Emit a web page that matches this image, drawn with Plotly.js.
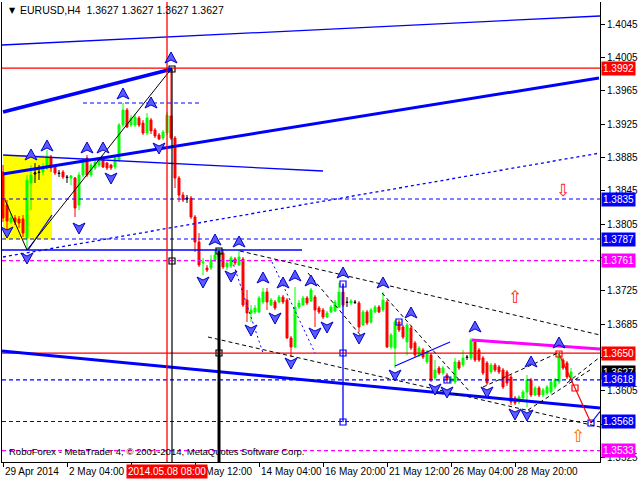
<!DOCTYPE html>
<html><head><meta charset="utf-8">
<script src="https://cdn.plot.ly/plotly-3.0.1.min.js"></script>
<style>html,body{margin:0;padding:0;background:#fff}#chart{width:640px;height:480px}</style>
</head><body><div id="chart"></div>
<script>
// ---- candle data (EURUSD H4), bar index 0 = 29 Apr 2014 12:00 ----
const openP = [1.38674,1.38278,1.38074,1.38122,1.38110,1.38110,1.37882,1.38542,1.38650,1.38674,1.38674,1.38722,1.38854,1.38734,1.38662,1.38674,1.38614,1.38602,1.38602,1.38278,1.38638,1.38842,1.38638,1.38722,1.38758,1.38842,1.38782,1.38758,1.38734,1.38818,1.39238,1.39418,1.39238,1.39238,1.39322,1.39262,1.39142,1.39298,1.39178,1.39118,1.39082,1.39142,1.39346,1.39082,1.38602,1.38398,1.38362,1.38362,1.38134,1.37834,1.37582,1.37522,1.37522,1.37618,1.37654,1.37702,1.37534,1.37546,1.37630,1.37558,1.37630,1.37138,1.36982,1.36994,1.36994,1.37114,1.37234,1.37078,1.37114,1.37114,1.37174,1.37138,1.36682,1.36574,1.37054,1.37078,1.37162,1.37126,1.37174,1.37042,1.37018,1.36934,1.36994,1.37006,1.37054,1.37234,1.37114,1.37102,1.37114,1.37102,1.36838,1.36994,1.36874,1.36994,1.37054,1.37018,1.37114,1.36574,1.36562,1.36874,1.36814,1.36634,1.36802,1.36622,1.36478,1.36538,1.36394,1.36478,1.36202,1.36322,1.36262,1.36238,1.36154,1.36154,1.36394,1.36358,1.36454,1.36442,1.36634,1.36538,1.36442,1.36382,1.36274,1.36358,1.36334,1.36298,1.36274,1.36214,1.35962,1.35914,1.35962,1.36034,1.36178,1.35998,1.36082,1.35998,1.36022,1.36034,1.36094,1.36154,1.36418,1.36382,1.36202];
const highP = [1.38758,1.38338,1.38170,1.38158,1.38146,1.38158,1.38638,1.38758,1.38782,1.38758,1.38782,1.38938,1.38878,1.38758,1.38698,1.38698,1.38638,1.38638,1.38614,1.38674,1.38842,1.38878,1.38782,1.38818,1.38842,1.38866,1.38794,1.38770,1.38878,1.39262,1.39502,1.39442,1.39358,1.39370,1.39346,1.39298,1.39382,1.39322,1.39202,1.39142,1.39178,1.39394,1.39922,1.39106,1.38626,1.38434,1.38398,1.38386,1.38158,1.37942,1.37642,1.37558,1.37678,1.37738,1.37762,1.37750,1.37606,1.37666,1.37654,1.37738,1.37654,1.37258,1.37078,1.37078,1.37186,1.37282,1.37282,1.37162,1.37138,1.37198,1.37198,1.37162,1.36706,1.37294,1.37138,1.37186,1.37186,1.37282,1.37198,1.37066,1.37042,1.37006,1.37078,1.37138,1.37342,1.37342,1.37174,1.37150,1.37138,1.37126,1.37018,1.37018,1.37042,1.37078,1.37078,1.37234,1.37138,1.36742,1.36898,1.36898,1.36838,1.36862,1.36826,1.36646,1.36586,1.36562,1.36538,1.36502,1.36418,1.36346,1.36346,1.36262,1.36226,1.36442,1.36418,1.36538,1.36478,1.36682,1.36658,1.36562,1.36466,1.36406,1.36382,1.36382,1.36358,1.36322,1.36298,1.36238,1.35986,1.35998,1.36058,1.36238,1.36202,1.36106,1.36106,1.36082,1.36118,1.36178,1.36202,1.36502,1.36442,1.36406,1.36322];
const lowP = [1.38074,1.37978,1.38050,1.38038,1.38002,1.37894,1.37738,1.38218,1.38542,1.38578,1.38638,1.38698,1.38674,1.38638,1.38614,1.38590,1.38542,1.38518,1.38134,1.38218,1.38614,1.38614,1.38614,1.38698,1.38734,1.38722,1.38698,1.38698,1.38710,1.38794,1.39214,1.39202,1.39214,1.39214,1.39214,1.39118,1.39118,1.39130,1.39082,1.39058,1.39058,1.39118,1.39058,1.38482,1.38314,1.38314,1.38302,1.38110,1.37714,1.37534,1.37438,1.37474,1.37498,1.37594,1.37642,1.37510,1.37498,1.37522,1.37558,1.37546,1.37054,1.36874,1.36874,1.36970,1.36982,1.37090,1.37018,1.37066,1.37018,1.37102,1.37090,1.36670,1.36454,1.36562,1.37030,1.37066,1.37078,1.37114,1.36814,1.36970,1.36910,1.36922,1.36982,1.36994,1.37042,1.37054,1.37054,1.37078,1.37090,1.36754,1.36826,1.36838,1.36850,1.36982,1.36982,1.36994,1.36562,1.36550,1.36322,1.36754,1.36670,1.36478,1.36538,1.36454,1.36454,1.36430,1.36370,1.36154,1.36178,1.36238,1.36238,1.36142,1.36130,1.36130,1.36298,1.36334,1.36418,1.36418,1.36394,1.36394,1.36238,1.36118,1.36250,1.36274,1.36250,1.36070,1.36106,1.35878,1.35878,1.35890,1.35938,1.35854,1.35974,1.35986,1.35974,1.35974,1.35998,1.36010,1.36070,1.36130,1.36298,1.36190,1.36178];
const closeP = [1.38122,1.38086,1.38122,1.38074,1.38062,1.37942,1.38578,1.38638,1.38662,1.38668,1.38722,1.38854,1.38722,1.38662,1.38656,1.38614,1.38608,1.38626,1.38242,1.38638,1.38818,1.38638,1.38758,1.38794,1.38818,1.38734,1.38722,1.38722,1.38842,1.39238,1.39418,1.39214,1.39322,1.39334,1.39238,1.39142,1.39322,1.39166,1.39106,1.39070,1.39154,1.39358,1.39082,1.38602,1.38398,1.38338,1.38350,1.38134,1.37834,1.37558,1.37594,1.37498,1.37618,1.37678,1.37714,1.37534,1.37582,1.37642,1.37582,1.37654,1.37078,1.36982,1.37018,1.37042,1.37162,1.37234,1.37114,1.37138,1.37042,1.37174,1.37114,1.36682,1.36574,1.37054,1.37102,1.37162,1.37102,1.37258,1.37018,1.36994,1.36934,1.36982,1.37054,1.37114,1.37234,1.37078,1.37108,1.37126,1.37108,1.36814,1.36994,1.36862,1.37018,1.37054,1.36994,1.37138,1.36574,1.36718,1.36874,1.36778,1.36694,1.36838,1.36562,1.36478,1.36562,1.36454,1.36514,1.36178,1.36298,1.36262,1.36322,1.36178,1.36202,1.36394,1.36322,1.36442,1.36448,1.36658,1.36418,1.36418,1.36262,1.36142,1.36358,1.36298,1.36274,1.36094,1.36142,1.35914,1.35902,1.35974,1.36034,1.36178,1.35998,1.36082,1.35998,1.36058,1.36094,1.36154,1.36178,1.36478,1.36322,1.36214,1.36274];
const dojiBars = [8, 9, 14, 16, 46, 86, 88, 116];

// ---- fractals ----
const fracUpBar = [7, 11, 21, 25, 30, 37, 42, 53, 59, 65, 70, 73, 77, 85, 95, 102, 118, 132, 139];
const fracUpPrice = [1.38878,1.38986,1.38962,1.38962,1.39610,1.39502,1.40042,1.37858,1.37834,1.37402,1.37342,1.37426,1.37366,1.37462,1.37342,1.36982,1.36814,1.36394,1.36622];
const fracDnBar = [1, 6, 19, 27, 39, 50, 57, 62, 68, 72, 78, 81, 89, 98, 108, 111, 121, 128, 131];
const fracDnPrice = [1.37954,1.37642,1.38002,1.38602,1.38962,1.37354,1.37426,1.36778,1.36922,1.36382,1.36742,1.36814,1.36682,1.36238,1.36070,1.36034,1.36034,1.35770,1.35758];

// ---- levels ----
const levelPrices = [1.3992, 1.3835, 1.3787, 1.3761, 1.3650, 1.3618, 1.3568, 1.3533];
const labelPrices = [1.3992, 1.3835, 1.3787, 1.3761, 1.3650, 1.3627, 1.3618, 1.3568, 1.3533];
const yTickVals = [1.4045, 1.4005, 1.3965, 1.3925, 1.3885, 1.3845, 1.3805, 1.3765, 1.3725, 1.3685, 1.3645, 1.3605, 1.3565, 1.3525];
const yTickText = ['1.4045','1.4005','1.3965','1.3925','1.3885','1.3845','1.3805','','1.3725','1.3685','','1.3605','','1.3525'];
const xTickBars = [0, 16, 32, 48, 64, 80, 96, 112, 128];
const xLabelBars = [0, 16, 48, 64, 80, 96, 112, 128];
const xLabelText = ['29 Apr 2014','2 May 04:00','9 May 12:00','14 May 04:00','16 May 20:00','21 May 12:00','26 May 04:00','28 May 20:00'];
const cursorBar = 41, cursorText = '2014.05.08 08:00';

// ---- trend lines [bar0, price0, bar1, price1] ----
const trendLines = [
  [-0.25, 1.40198, 149.25, 1.40546],
  [0, 1.39394, 42.25, 1.39910],
  [0, 1.38650, 149, 1.39802],
  [0, 1.38878, 80, 1.38686],
  [0, 1.37654, 149.25, 1.38902],
  [-0.25, 1.36526, 149.25, 1.35842],
  [117.25, 1.36658, 149.25, 1.36550],
  [98, 1.36346, 111.75, 1.36634],
  [6.25, 1.37738, 12.25, 1.38158],
  [-0.25, 1.37738, 74.75, 1.37738],
  [20, 1.39502, 49.25, 1.39502],
  [59.25, 1.37726, 149.25, 1.36718],
  [51.25, 1.36694, 149.25, 1.35614],
  [0.5, 1.38338, 6, 1.37738],
  [6, 1.37738, 42.25, 1.39922],
  [42.25, 1.39910, 42.25, 1.35194],
  [54, 1.37726, 54, 1.35194],
  [85, 1.37330, 85, 1.35674],
  [41, 1.40714, 41, 1.35194],
  [139, 1.36490, 143, 1.36082],
  [143, 1.36082, 147, 1.35662],
  [147, 1.35662, 149.25, 1.35800],
  [57.25, 1.37618, 65, 1.36502],
  [67.25, 1.37594, 78, 1.36502],
  [76.25, 1.37462, 89.75, 1.36694],
  [94.75, 1.37222, 116.75, 1.36034],
  [120, 1.36094, 139.25, 1.36514],
  [131.25, 1.35818, 146.75, 1.36298],
  [141, 1.36142, 149.25, 1.36454]
];
const trendStyle = [
  ['#0000ff',1.3,'solid'],['#0000ff',3.5,'solid'],['#0000ff',3,'solid'],['#0000ff',1.3,'solid'],
  ['#0000ff',1.3,'dot'],['#0000ff',3,'solid'],['#ff00ff',3,'solid'],['#0000ff',1.2,'solid'],
  ['#0000ff',1.2,'solid'],['#0000ff',1.5,'solid'],['#0000ff',1.2,'4px,3px'],['#000000',1,'4px,3px'],
  ['#000000',1,'4px,3px'],['#000000',1,'solid'],['#000000',1,'solid'],['#000000',1.2,'solid'],
  ['#000000',3,'solid'],['#0000ff',1.3,'solid'],['#ff0000',1.3,'solid'],['#ff0000',1.2,'solid'],
  ['#ff0000',1.2,'solid'],['#0000ff',1.2,'solid'],
  ['#0000ff',1,'2px,3px'],['#0000ff',1,'2px,3px'],['#000000',1,'4px,3px'],['#000000',1,'4px,3px'],
  ['#000000',1,'4px,3px'],['#000000',1,'4px,3px'],['#000000',1,'4px,3px']
];
const levelStyle = [['#ff0000','solid'],['#0000ff','4px,3px'],['#0000ff','4px,3px'],['#ff00ff','4px,3px'],['#ff0000','solid'],['#0000ff','4px,3px'],['#0000ff','4px,3px'],['#ff00ff','4px,3px']];
const labelColors = ['#ff0000','#0000ff','#0000ff','#ff00ff','#ff0000','#000000','#0000ff','#0000ff','#ff00ff'];

// anchor squares [bar, price]
const squareBars = [42.25, 42.25, 54, 54, 85, 85, 85, 139, 143, 147, 99, 111];
const squarePrices = [1.39910, 1.37606, 1.37726, 1.36502, 1.37330, 1.36502, 1.35674, 1.36490, 1.36082, 1.35662, 1.36874, 1.36178];
const squareColors = ['#000','#000','#000','#000','#00f','#00f','#00f','#f00','#f00','#00f','#00f','#00f'];

const rectBox = [0, 1.37870, 12.25, 1.38878];

// ---------- build ----------
const FONT = 'Liberation Sans, Arial, sans-serif';
const idx = openP.map((_, i) => i);
const isDoji = i => dojiBars.indexOf(i) >= 0;
const normal = idx.filter(i => !isDoji(i));
const dj = idx.filter(isDoji);
const pick = (arr, ids) => ids.map(i => arr[i]);

const traces = [
  {type:'candlestick', x: normal, open: pick(openP, normal), high: pick(highP, normal), low: pick(lowP, normal), close: pick(closeP, normal),
   increasing:{line:{color:'#00ff00', width:1}, fillcolor:'#00ff00'},
   decreasing:{line:{color:'#ff0000', width:1}, fillcolor:'#ff0000'}, whiskerwidth:0, showlegend:false, hoverinfo:'skip'},
  {type:'candlestick', x: dj, open: pick(openP, dj), high: pick(highP, dj), low: pick(lowP, dj), close: pick(closeP, dj),
   increasing:{line:{color:'#000000', width:1}, fillcolor:'#000000'},
   decreasing:{line:{color:'#000000', width:1}, fillcolor:'#000000'}, whiskerwidth:0, showlegend:false, hoverinfo:'skip'},
  {type:'scatter', mode:'markers', x: squareBars, y: squarePrices, showlegend:false, hoverinfo:'skip',
   marker:{symbol:'square-open', size:6, color: squareColors, line:{width:1.2}}}
];

const shapes = [];
shapes.push({type:'rect', xref:'x', yref:'y', x0:rectBox[0], y0:rectBox[1], x1:rectBox[2], y1:rectBox[3], fillcolor:'#ffff00', line:{width:0}, layer:'below'});
levelPrices.forEach((p, k) => shapes.push({type:'line', xref:'paper', yref:'y', x0:0, x1:1, y0:p, y1:p,
  line:{color:levelStyle[k][0], width:1.2, dash:levelStyle[k][1]}}));
trendLines.forEach((t, k) => shapes.push({type:'line', xref:'x', yref:'y', x0:t[0], y0:t[1], x1:t[2], y1:t[3],
  line:{color:trendStyle[k][0], width:trendStyle[k][1], dash:trendStyle[k][2]}}));
// fractal glyphs (notched arrowheads), drawn in pixel size around their data anchor
const UP_PATH = 'M0,6 L6,-5 L0,-2 L-6,-5 Z';
const DN_PATH = 'M0,-6 L6,5 L0,2 L-6,5 Z';
fracUpBar.forEach((b, k) => shapes.push({type:'path', xref:'x', yref:'y', xsizemode:'pixel', ysizemode:'pixel',
  xanchor:b, yanchor:fracUpPrice[k], path:UP_PATH, fillcolor:'#5a5aff', line:{color:'#0000c8', width:1}}));
fracDnBar.forEach((b, k) => shapes.push({type:'path', xref:'x', yref:'y', xsizemode:'pixel', ysizemode:'pixel',
  xanchor:b, yanchor:fracDnPrice[k], path:DN_PATH, fillcolor:'#5a5aff', line:{color:'#0000c8', width:1}}));

const annotations = [];
annotations.push({xref:'paper', yref:'paper', x:0.009, y:0.982, xanchor:'left', yanchor:'middle', showarrow:false,
  text:'▼', font:{family:'DejaVu Sans', size:8, color:'#000'}});
annotations.push({xref:'paper', yref:'paper', x:0.027, y:0.983, xanchor:'left', yanchor:'middle', showarrow:false,
  text:'EURUSD,H4  1.3627 1.3627 1.3627 1.3627', font:{family:FONT, size:10.5, color:'#000'}});
annotations.push({xref:'paper', yref:'paper', x:0.008, y:0.022, xanchor:'left', yanchor:'middle', showarrow:false,
  text:'RoboForex - MetaTrader 4, © 2001-2014, MetaQuotes Software Corp.', font:{family:FONT, size:9.5, color:'#000'}});
xLabelBars.forEach((b, k) => annotations.push({xref:'x', yref:'paper', x:b, y:0, yshift:-2, xanchor:'left', yanchor:'top',
  showarrow:false, text:xLabelText[k], font:{family:FONT, size:10, color:'#000'}}));
annotations.push({xref:'x', yref:'paper', x:cursorBar, y:0, yshift:-2, xanchor:'center', yanchor:'top', showarrow:false,
  text:cursorText, bgcolor:'#ff0000', borderpad:1, font:{family:FONT, size:10, color:'#fff'}});
labelPrices.forEach((p, k) => annotations.push({xref:'paper', yref:'y', x:1, xshift:1, y:p, xanchor:'left', yanchor:'middle',
  showarrow:false, text:p.toFixed(4), bgcolor:labelColors[k], borderpad:1, font:{family:FONT, size:10, color:'#fff'}}));
// signal arrows
const arrowBars = [140, 128, 143.75];
const arrowPrices = [1.38458, 1.37174, 1.35506];
const arrowGlyph = ['⇩', '⇧', '⇧'];
const arrowColor = ['#ff2020', '#ff2020', '#ff6a00'];
arrowBars.forEach((b, k) => annotations.push({xref:'x', yref:'y', x:b, y:arrowPrices[k], showarrow:false,
  text:arrowGlyph[k], font:{family:'DejaVu Sans', size:17, color:arrowColor[k]}}));

const layout = {
  width:640, height:480, margin:{l:2, r:40, t:2, b:18, pad:0},
  paper_bgcolor:'#ffffff', plot_bgcolor:'#ffffff', showlegend:false,
  xaxis:{range:[-0.25, 149.25], showgrid:false, zeroline:false, showline:true, linecolor:'#000', linewidth:1,
    ticks:'outside', ticklen:4, tickcolor:'#000', tickvals:xTickBars, showticklabels:false,
    rangeslider:{visible:false}, fixedrange:true},
  yaxis:{range:[1.35194, 1.40714], side:'right', showgrid:false, zeroline:false, showline:true, mirror:true,
    linecolor:'#000', linewidth:1, ticks:'outside', ticklen:4, tickcolor:'#000',
    tickvals:yTickVals, ticktext:yTickText, tickfont:{family:FONT, size:10, color:'#000'}, fixedrange:true},
  shapes:shapes, annotations:annotations
};
Plotly.newPlot('chart', traces, layout, {staticPlot:true, displayModeBar:false});
</script></body></html>
